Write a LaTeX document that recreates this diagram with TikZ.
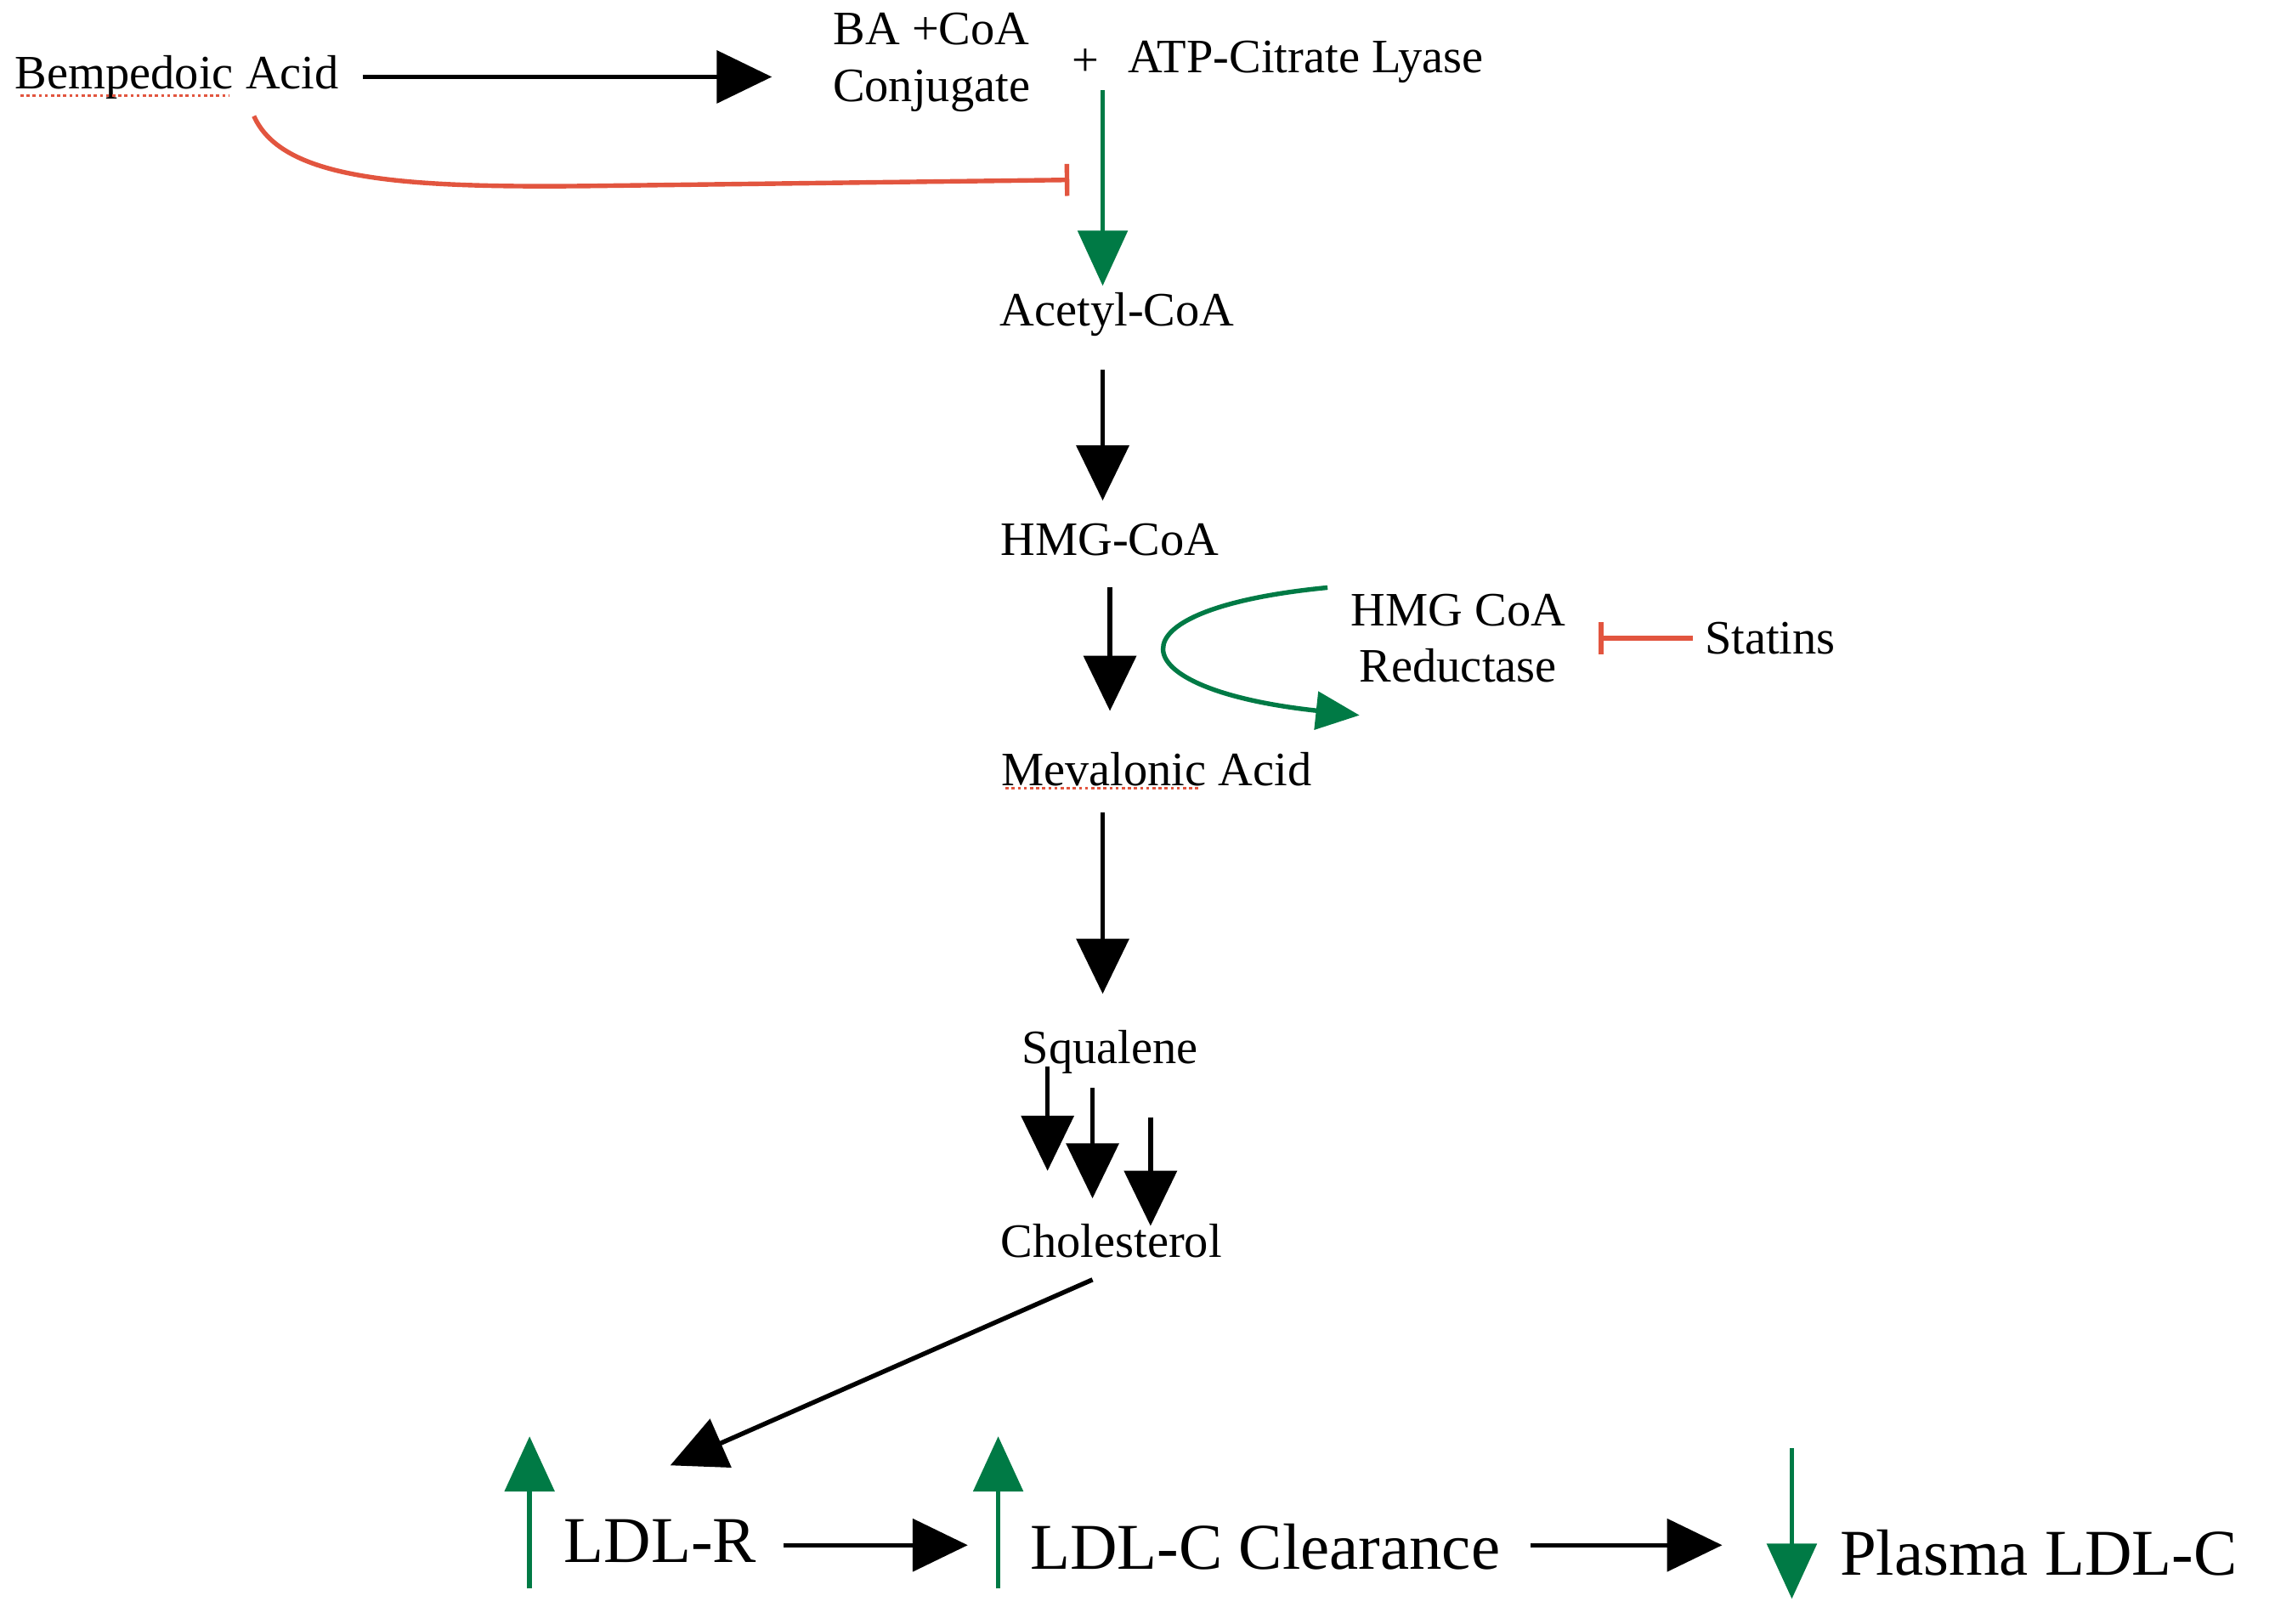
\documentclass[tikz,border=0pt]{standalone}
\usepackage{fontspec}
\setmainfont{Liberation Serif}
\usetikzlibrary{arrows.meta}
\definecolor{pg}{HTML}{007A45}
\definecolor{pr}{HTML}{E2553F}
\begin{document}
\begin{tikzpicture}[x=0.01cm,y=-0.01cm,
  sm/.style={font=\fontsize{9.4}{11}\selectfont,inner sep=0pt,align=center},
  lg/.style={font=\fontsize{12.8}{15}\selectfont,inner sep=0pt},
  blk/.style={line width=0.9pt,-{Triangle[length=0.38cm,width=0.36cm]}},
  grn/.style={pg,line width=0.9pt,-{Triangle[length=0.38cm,width=0.34cm]}},
  inh/.style={pr,line width=0.9pt,-{Bar[width=0.22cm]}}]
\useasboundingbox (0,0) rectangle (1568,1119);
\node[sm] (ba) at (122,53) {Bempedoic Acid};
\node[sm] (conj) at (642,43) {BA +CoA\\Conjugate};
\node[sm] (plus) at (748,43) {+};
\node[sm] (atp) at (900,43) {ATP-Citrate Lyase};
\node[sm] (acetyl) at (770,217) {Acetyl-CoA};
\node[sm] (hmg) at (765,372) {HMG-CoA};
\node[sm] (red) at (1005,440) {HMG CoA\\Reductase};
\node[sm] (statins) at (1220,440) {Statins};
\node[sm] (meva) at (797,530) {Mevalonic Acid};
\node[sm] (squal) at (765,725) {Squalene};
\node[sm] (chol) at (766,855) {Cholesterol};
\node[lg] (ldlr) at (455,1062) {LDL-R};
\node[lg] (clear) at (872,1066) {LDL-C Clearance};
\node[lg] (plasma) at (1405,1070) {Plasma LDL-C};
% spell-check underlines
\draw[pr,line width=0.5pt,dash pattern=on 0.6pt off 0.6pt] (14,66)--(158,66);
\draw[pr,line width=0.5pt,dash pattern=on 0.6pt off 0.6pt] (693,543)--(828,543);
% coordinates
\coordinate (g1) at (760,62); \coordinate (g2) at (760,197);
\coordinate (i1) at (737,124);
\coordinate (st) at (1167,440); \coordinate (st2) at (1102,440);
\draw[blk] (250,53) -- (532,53);
\draw[pr,line width=0.9pt,-{Bar[width=0.22cm]}] (175,80) .. controls (195,125) and (280,130) .. (420,128) -- (i1);
\draw[grn] (g1) -- (g2);
\draw[blk] (760,255) -- (760,345);
\draw[blk] (765,405) -- (765,490);
\draw[pg,line width=0.9pt,-{Triangle[length=0.3cm,width=0.26cm]}] (915,405) .. controls (760,420) and (770,475) .. (937,493);
\draw[inh] (st) -- (st2);
\draw[blk] (760,560) -- (760,685);
\draw[blk] (722,735) -- (722,807);
\draw[blk] (753,750) -- (753,826);
\draw[blk] (793,770) -- (793,845);
\draw[blk] (753,882) -- (462,1010);
\draw[grn] (365,1095) -- (365,990);
\draw[grn] (688,1095) -- (688,990);
\draw[grn] (1235,998) -- (1235,1102);
\draw[blk] (540,1065) -- (667,1065);
\draw[blk] (1055,1065) -- (1187,1065);
\end{tikzpicture}
\end{document}
